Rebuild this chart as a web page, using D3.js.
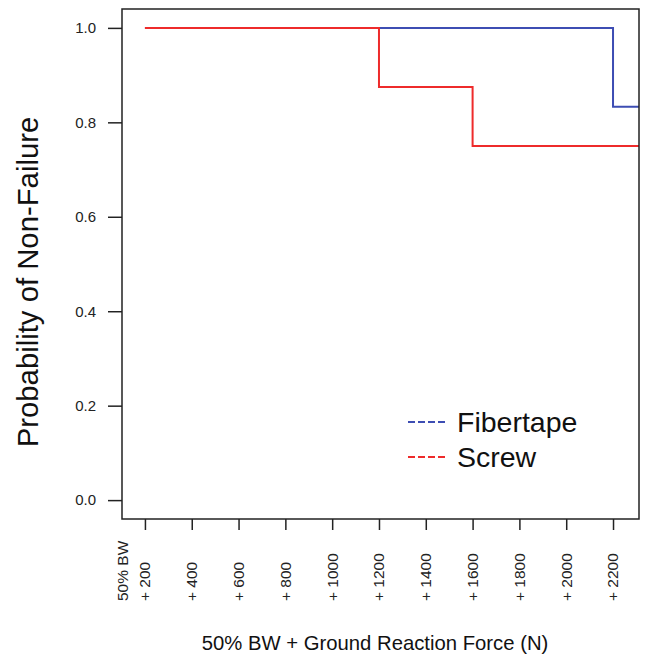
<!DOCTYPE html>
<html>
<head>
<meta charset="utf-8">
<script src="https://cdn.jsdelivr.net/npm/d3@7"></script>
<style>
  body { margin: 0; background: #fff; }
  svg { display: block; font-family: "Liberation Sans", Arial, sans-serif; }
</style>
</head>
<body>
<svg id="chart" width="652" height="657"></svg>
<script>
// Kaplan-Meier style step curves
const xTicks = [200, 400, 600, 800, 1000, 1200, 1400, 1600, 1800, 2000, 2200];
const xTickLabels = ['+ 200', '+ 400', '+ 600', '+ 800', '+ 1000', '+ 1200', '+ 1400', '+ 1600', '+ 1800', '+ 2000', '+ 2200'];
const yTicks = [0, 0.2, 0.4, 0.6, 0.8, 1.0];

const fibertapeX = [200, 2200, 2311];
const fibertapeS = [1.0, 0.833, 0.833];
const screwX = [200, 1200, 1600, 2311];
const screwS = [1.0, 0.875, 0.75, 0.75];

const seriesNames = ['Fibertape', 'Screw'];
const colors = ['#3d4db3', '#ee2b2b'];

const svg = d3.select('#chart');
const box = { left: 122, right: 639, top: 9, bottom: 519 };

const x = d3.scaleLinear().domain([102, 2311]).range([box.left, box.right]);
const y = d3.scaleLinear().domain([-0.04, 1.04]).range([box.bottom, box.top]);

// y axis
const yAxis = svg.append('g')
  .attr('transform', `translate(${box.left},0)`)
  .call(d3.axisLeft(y).tickValues(yTicks).tickFormat(d3.format('.1f')).tickSize(14).tickPadding(12));
yAxis.select('.domain').remove();
yAxis.selectAll('line').attr('stroke', '#222').attr('stroke-width', 1.5);
yAxis.selectAll('text').attr('font-size', 15).attr('fill', '#222')
  .attr('font-family', '"Liberation Sans", Arial, sans-serif');

// x axis ticks (labels drawn separately, rotated)
const xAxis = svg.append('g')
  .attr('transform', `translate(0,${box.bottom})`)
  .call(d3.axisBottom(x).tickValues(xTicks).tickFormat('').tickSize(11));
xAxis.select('.domain').remove();
xAxis.selectAll('line').attr('stroke', '#222').attr('stroke-width', 1.5);

const xl = svg.append('g').selectAll('text')
  .data(xTicks)
  .join('text')
  .attr('transform', d => `translate(${x(d)},601) rotate(-90)`)
  .attr('text-anchor', 'start')
  .attr('font-size', 15.5)
  .attr('fill', '#222');
xl.each(function(d, i) {
  const t = d3.select(this);
  if (i === 0) {
    t.append('tspan').attr('x', 0).attr('y', -22).attr('dy', '0.35em').text('50% BW');
  }
  t.append('tspan').attr('x', 0).attr('y', 0).attr('dy', '0.35em').text(xTickLabels[i]);
});

// curves
const line = d3.line()
  .x(d => x(d[0]))
  .y(d => y(d[1]))
  .curve(d3.curveStepAfter);

const series = [
  d3.zip(fibertapeX, fibertapeS),
  d3.zip(screwX, screwS)
];

svg.append('g').selectAll('path')
  .data(series)
  .join('path')
  .attr('d', line)
  .attr('fill', 'none')
  .attr('stroke', (d, i) => colors[i])
  .attr('stroke-width', 2);

// frame
svg.append('rect')
  .attr('x', box.left).attr('y', box.top)
  .attr('width', box.right - box.left).attr('height', box.bottom - box.top)
  .attr('fill', 'none').attr('stroke', '#222').attr('stroke-width', 1.5);

// legend
const legend = svg.append('g').selectAll('g')
  .data(seriesNames)
  .join('g')
  .attr('transform', (d, i) => `translate(408,${422 + i * 35})`);
legend.append('line')
  .attr('x1', 0).attr('x2', 38)
  .attr('stroke', (d, i) => colors[i])
  .attr('stroke-width', 2)
  .attr('stroke-dasharray', '7,3');
legend.append('text')
  .attr('x', 49).attr('dy', '0.35em')
  .attr('font-size', 28.5)
  .attr('fill', '#111')
  .text(d => d);

// axis titles
svg.append('text')
  .attr('x', 375).attr('y', 650)
  .attr('text-anchor', 'middle')
  .attr('font-size', 20.3)
  .attr('fill', '#111')
  .text('50% BW + Ground Reaction Force (N)');

svg.append('text')
  .attr('transform', 'translate(38,282) rotate(-90)')
  .attr('text-anchor', 'middle')
  .attr('font-size', 29.3)
  .attr('fill', '#111')
  .text('Probability of Non-Failure');
</script>
</body>
</html>
